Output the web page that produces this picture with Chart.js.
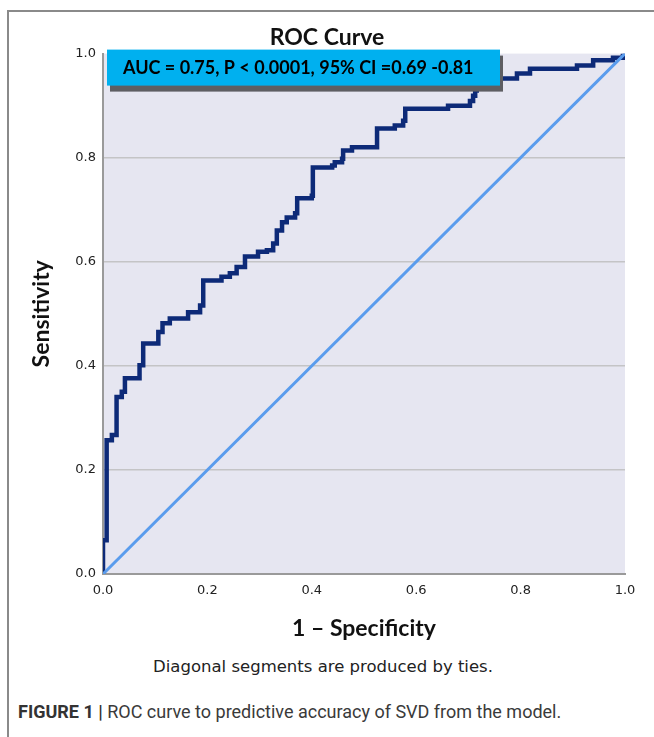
<!DOCTYPE html>
<html>
<head>
<meta charset="utf-8">
<script src="https://cdn.jsdelivr.net/npm/chart.js@4.4.0/dist/chart.umd.min.js"></script>
<style>
  body { margin: 0; background: #fff; }
  #page { position: relative; width: 654px; height: 737px; overflow: hidden; background: #fff; }
  #frame { position: absolute; left: 7px; top: 10px; width: 660px; height: 740px;
           border-top: 2px solid #8a8a8a; border-left: 2px solid #8a8a8a; }
  #wrap { position: absolute; left: 0; top: 0; width: 654px; height: 650px; }
  #note { position: absolute; left: 0; width: 646px; top: 657px; text-align: center;
          font: 16.5px "DejaVu Sans", sans-serif; color: #222; }
  #caption { position: absolute; left: 18px; top: 701px; font: 18px Roboto, "Liberation Sans", sans-serif;
             color: #3a3a3a; }
  #caption b { font-weight: 700; color: #333; }
</style>
</head>
<body>
<div id="page">
  <div id="frame"></div>
  <div id="wrap"><canvas id="roc" width="654" height="650"></canvas></div>
  <div id="note">Diagonal segments are produced by ties.</div>
  <div id="caption"><b>FIGURE 1 |</b> ROC curve to predictive accuracy of SVD from the model.</div>
</div>
<script>
// ROC curve (1 - specificity, sensitivity)
var fpr = [0, 0, 0.007, 0.017, 0.026, 0.036, 0.042, 0.070, 0.077, 0.106, 0.114, 0.128,
           0.163, 0.186, 0.192, 0.227, 0.243, 0.256, 0.272, 0.297, 0.314, 0.326, 0.333,
           0.343, 0.352, 0.368, 0.372, 0.400, 0.402, 0.439, 0.444, 0.458, 0.460, 0.477,
           0.525, 0.559, 0.575, 0.579, 0.661, 0.703, 0.709, 0.713, 0.716, 0.740, 0.793,
           0.818, 0.908, 0.939, 0.977, 0.996, 1];
var tpr = [0, 0.065, 0.257, 0.267, 0.340, 0.350, 0.376, 0.401, 0.443, 0.465, 0.482, 0.491,
           0.503, 0.516, 0.564, 0.571, 0.578, 0.590, 0.610, 0.619, 0.622, 0.635, 0.660,
           0.676, 0.685, 0.693, 0.722, 0.727, 0.781, 0.785, 0.791, 0.798, 0.814, 0.820,
           0.856, 0.862, 0.871, 0.894, 0.900, 0.909, 0.919, 0.929, 0.935, 0.952, 0.962,
           0.971, 0.977, 0.987, 0.992, 0.996, 1];
var refX = [0, 1];
var refY = [0, 1];
var axisTicks = [0, 0.2, 0.4, 0.6, 0.8, 1.0];
var chartTitle = 'ROC Curve';
var xTitle = '1 \u2013 Specificity';
var yTitle = 'Sensitivity';
var aucText = 'AUC = 0.75, P < 0.0001, 95% CI =0.69 -0.81';

var curvePts = fpr.map(function (x, i) { return { x: x, y: tpr[i] }; });
var refPts = refX.map(function (x, i) { return { x: x, y: refY[i] }; });

// plot background + the blue AUC label box
var plotDeco = {
  id: 'plotDeco',
  beforeDraw: function (chart) {
    var a = chart.chartArea, ctx = chart.ctx;
    ctx.save();
    ctx.fillStyle = '#e6e6f1';
    ctx.fillRect(a.left, a.top, a.right - a.left, a.bottom - a.top);
    ctx.restore();
  },
  afterDraw: function (chart) {
    var a = chart.chartArea, ctx = chart.ctx;
    var bx = a.left + 4, by = a.top - 4, bw = 393, bh = 36;
    ctx.save();
    ctx.fillStyle = '#5e5e62';
    ctx.fillRect(bx + 3, by + 6, bw, bh);
    ctx.fillStyle = '#00b0ef';
    ctx.fillRect(bx, by, bw, bh);
    ctx.fillStyle = '#000';
    ctx.font = 'bold 18px Lato, sans-serif';
    ctx.textBaseline = 'middle';
    ctx.fillText(aucText, bx + 16, by + bh / 2 + 1);
    ctx.restore();
  }
};

var labelFont = { family: 'Lato', size: 23, weight: 'bold' };
var tickFont = { family: 'DejaVu Sans', size: 13 };

new Chart(document.getElementById('roc'), {
  type: 'scatter',
  data: {
    datasets: [{
      label: 'Reference Line',
      data: refPts,
      showLine: true,
      borderColor: '#5a9ced',
      borderWidth: 3,
      pointRadius: 0
    }, {
      label: 'ROC',
      data: curvePts,
      showLine: true,
      stepped: true,
      borderColor: '#0d2a78',
      borderWidth: 4.5,
      borderJoinStyle: 'miter',
      pointRadius: 0
    }]
  },
  plugins: [plotDeco],
  options: {
    responsive: false,
    animation: false,
    layout: { padding: 0 },
    plugins: {
      legend: { display: false },
      tooltip: { enabled: false },
      title: {
        display: true,
        text: chartTitle,
        color: '#111',
        font: labelFont,
        padding: { top: 24, bottom: 2 }
      }
    },
    scales: {
      x: {
        type: 'linear', min: 0, max: 1,
        afterBuildTicks: function (s) { s.ticks = axisTicks.map(function (v) { return { value: v }; }); },
        afterFit: function (s) { s.height = 76; },
        grid: { display: false, drawTicks: false },
        border: { display: true, color: '#9a9a9a', width: 2 },
        ticks: {
          padding: 9, color: '#222', font: tickFont,
          maxRotation: 0,
          callback: function (v) { return v.toFixed(1); }
        },
        title: {
          display: true, text: xTitle, color: '#111',
          font: labelFont,
          padding: { top: 0, bottom: 8 }
        }
      },
      y: {
        type: 'linear', min: 0, max: 1,
        afterBuildTicks: function (s) { s.ticks = axisTicks.map(function (v) { return { value: v }; }); },
        afterFit: function (s) { s.width = 103; },
        grid: {
          drawTicks: false, lineWidth: 1.5,
          color: function (c) { return (c.tick && (c.tick.value === 0 || c.tick.value === 1)) ? 'rgba(0,0,0,0)' : '#c4c4c6'; }
        },
        border: { display: true, color: '#9a9a9a', width: 2 },
        ticks: {
          padding: 7, color: '#222', font: tickFont,
          callback: function (v) { return v.toFixed(1); }
        },
        title: {
          display: true, text: yTitle, color: '#111',
          font: labelFont,
          padding: { top: 28, bottom: 0 }
        }
      },
      // empty right margin so the title centres over the whole figure
      yRight: {
        type: 'linear', position: 'right', min: 0, max: 1,
        afterFit: function (s) { s.width = 29; },
        grid: { display: false, drawTicks: false },
        border: { display: false },
        ticks: { display: false }
      }
    }
  }
});
</script>
</body>
</html>
